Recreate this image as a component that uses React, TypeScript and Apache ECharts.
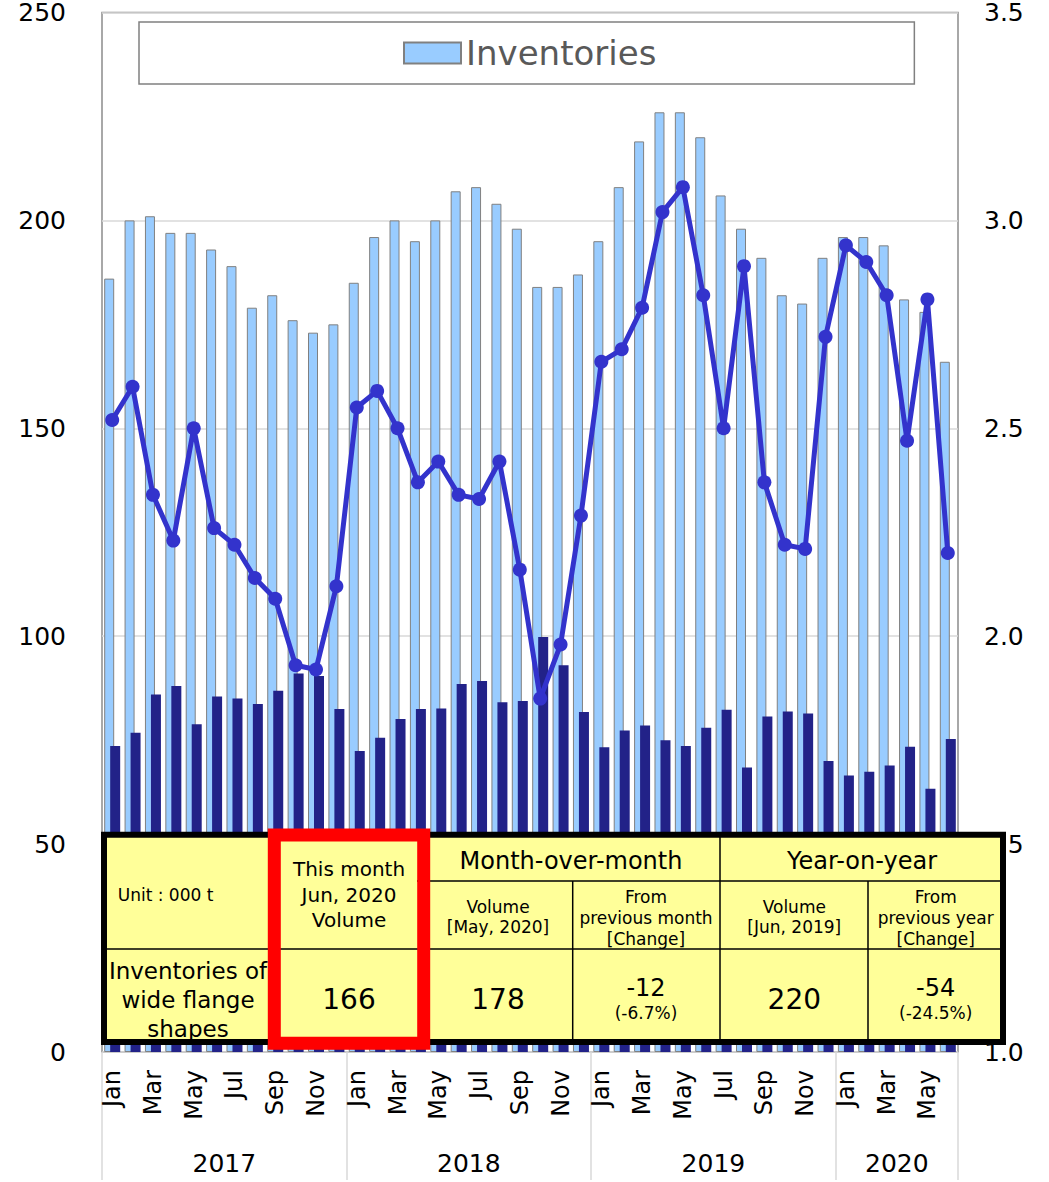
import React, { useEffect, useRef } from "react";
import * as echarts from "echarts";

const years = ["2017", "2018", "2019", "2020"];
const monthsPerYear = [12, 12, 12, 6];
const monthNames = ["Jan", "Feb", "Mar", "Apr", "May", "Jun", "Jul", "Aug", "Sep", "Oct", "Nov", "Dec"];

// Inventories (000 t), left axis
const inventories = [
  186, 200, 201, 197, 197, 193, 189, 179, 182, 176, 173, 175,
  185, 196, 200, 195, 200, 207, 208, 204, 198, 184, 184, 187,
  195, 208, 219, 226, 226, 220, 206, 198, 191, 182, 180, 191,
  196, 196, 194, 181, 178, 166,
];
// Shipments (000 t), left axis
const shipments = [
  73.6, 76.8, 86.0, 88.0, 78.8, 85.5, 85.0, 83.7, 86.9, 91.0, 90.4, 82.5,
  72.4, 75.6, 80.1, 82.5, 82.6, 88.5, 89.2, 84.1, 84.4, 99.8, 93.0, 81.8,
  73.3, 77.3, 78.5, 75.0, 73.6, 78.0, 82.3, 68.4, 80.7, 81.9, 81.4, 70.0,
  66.5, 67.4, 68.9, 73.4, 63.3, 75.3,
];
// Inventory ratio (months), right axis
const ratio = [
  2.52, 2.60, 2.34, 2.23, 2.50, 2.26, 2.22, 2.14, 2.09, 1.93, 1.92, 2.12,
  2.55, 2.59, 2.50, 2.37, 2.42, 2.34, 2.33, 2.42, 2.16, 1.85, 1.98, 2.29,
  2.66, 2.69, 2.79, 3.02, 3.08, 2.82, 2.50, 2.89, 2.37, 2.22, 2.21, 2.72,
  2.94, 2.90, 2.82, 2.47, 2.81, 2.20,
];

const leftAxis = { min: 0, max: 250, interval: 50 };
const rightAxis = { min: 1.0, max: 3.5, interval: 0.5 };

const tableHeaders = {
  unit: "Unit : 000 t",
  rowLabel: "Inventories of\nwide flange\nshapes",
  thisMonth: "This month\nJun, 2020\nVolume",
  mom: "Month-over-month",
  momVolume: "Volume\n[May, 2020]",
  momChange: "From\nprevious month\n[Change]",
  yoy: "Year-on-year",
  yoyVolume: "Volume\n[Jun, 2019]",
  yoyChange: "From\nprevious year\n[Change]",
};

const FONT = "DejaVu Sans";

function buildCategories() {
  const cats: string[] = [];
  years.forEach((y, yi) => {
    for (let m = 0; m < monthsPerYear[yi]; m++) cats.push(monthNames[m] + " " + y);
  });
  return cats;
}

export default function App() {
  const ref = useRef<HTMLDivElement>(null);

  useEffect(() => {
    document.body.style.margin = "0";
    if (!ref.current) return;
    const chart = echarts.init(ref.current, undefined, { renderer: "svg" });

    const categories = buildCategories();
    const boundaries: number[] = [0];
    monthsPerYear.forEach((n) => boundaries.push(boundaries[boundaries.length - 1] + n));
    const mids = monthsPerYear.map((n, i) => boundaries[i] + n / 2);

    const last = inventories.length - 1;
    const cur = inventories[last];
    const prevM = inventories[last - 1];
    const prevY = inventories[last - 12];
    const dM = cur - prevM;
    const dY = cur - prevY;
    const pM = ((dM / prevM) * 100).toFixed(1);
    const pY = ((dY / prevY) * 100).toFixed(1);

    const t = (x: number, y: number, text: string, size: number, align = "center", lineHeight?: number) => ({
      type: "text",
      z: 110,
      x,
      y,
      style: {
        text,
        fill: "#000",
        font: `${size}px "${FONT}"`,
        fontSize: size,
        fontFamily: FONT,
        textAlign: align,
        align,
        textVerticalAlign: "middle",
        verticalAlign: "middle",
        lineHeight: lineHeight ?? size * 1.2,
      },
    });
    const ln = (x1: number, y1: number, x2: number, y2: number) => ({
      type: "line",
      z: 105,
      shape: { x1, y1, x2, y2 },
      style: { stroke: "#000", lineWidth: 1.5 },
    });

    const tx0 = 104, ty0 = 834.7, tx1 = 1003, ty1 = 1042;

    const option: any = {
      animation: false,
      textStyle: { fontFamily: FONT },
      grid: {
        left: 102,
        right: 91,
        top: 11,
        bottom: 130,
        show: true,
        borderColor: "#8c8c8c",
        borderWidth: 1.5,
      },
      legend: {
        data: ["Inventories"],
        left: 139,
        top: 22,
        padding: [14, 258, 14, 264],
        borderColor: "#808080",
        borderWidth: 1.5,
        icon: "rect",
        itemWidth: 57,
        itemHeight: 21,
        textStyle: { fontSize: 34, color: "#595959", fontFamily: FONT },
      },
      xAxis: [
        {
          type: "category",
          data: categories,
          position: "bottom",
          axisLine: { show: false },
          axisTick: { show: false },
          axisLabel: {
            interval: 1,
            rotate: 90,
            margin: 18,
            fontSize: 24,
            color: "#000",
            fontFamily: FONT,
            formatter: (v: string) => v.split(" ")[0],
          },
        },
        {
          type: "value",
          position: "bottom",
          min: 0,
          max: boundaries[boundaries.length - 1],
          axisLine: { show: false },
          splitLine: { show: false },
          axisTick: {
            show: true,
            customValues: boundaries,
            length: 128,
            lineStyle: { color: "#d9d9d9", width: 1.5 },
          },
          axisLabel: {
            customValues: mids,
            margin: 99,
            fontSize: 25,
            color: "#000",
            fontFamily: FONT,
            formatter: (v: number) => {
              const i = mids.indexOf(v);
              return i >= 0 ? years[i] : "";
            },
          },
        },
      ],
      yAxis: [
        {
          type: "value",
          min: leftAxis.min,
          max: leftAxis.max,
          interval: leftAxis.interval,
          axisLine: { show: false },
          axisTick: { show: false },
          axisLabel: { fontSize: 25, lineHeight: 20, color: "#000", margin: 36, fontFamily: FONT },
          splitLine: { lineStyle: { color: "#d9d9d9", width: 1.5 } },
        },
        {
          type: "value",
          min: rightAxis.min,
          max: rightAxis.max,
          interval: rightAxis.interval,
          axisLine: { show: false },
          axisTick: { show: false },
          axisLabel: {
            fontSize: 25,
            lineHeight: 20,
            color: "#000",
            margin: 26,
            fontFamily: FONT,
            formatter: (v: number) => v.toFixed(1),
          },
          splitLine: { show: false },
        },
      ],
      series: [
        {
          name: "Inventories",
          type: "bar",
          data: inventories,
          barWidth: 10,
          barGap: "-40%",
          itemStyle: { color: "#99CCFF", borderColor: "#808080", borderWidth: 1 },
          z: 2,
        },
        {
          name: "Shipments",
          type: "bar",
          data: shipments,
          barWidth: 10,
          itemStyle: { color: "#222288" },
          z: 3,
        },
        {
          name: "Inventory ratio",
          type: "line",
          yAxisIndex: 1,
          data: ratio,
          symbol: "circle",
          symbolSize: 14,
          showAllSymbol: true,
          lineStyle: { color: "#3333CC", width: 5 },
          itemStyle: { color: "#3333CC" },
          z: 5,
        },
      ],
      graphic: [
        {
          type: "rect",
          z: 100,
          shape: { x: tx0, y: ty0, width: tx1 - tx0, height: ty1 - ty0 },
          style: { fill: "#FFFF99", stroke: null },
        },
        ln(tx0, 949, tx1, 949),
        ln(417, 881, tx1, 881),
        ln(274, ty0, 274, ty1),
        ln(572.7, 881, 572.7, ty1),
        ln(720, ty0, 720, ty1),
        ln(868, 881, 868, ty1),
        t(117.7, 895, tableHeaders.unit, 17, "left"),
        t(188, 999.5, tableHeaders.rowLabel, 23, "center", 29),
        t(349, 894.7, tableHeaders.thisMonth, 20, "center", 25.3),
        t(349, 999.3, String(cur), 28),
        t(571, 860.5, tableHeaders.mom, 24),
        t(498, 917, tableHeaders.momVolume, 17, "center", 20.6),
        t(498, 999.3, String(prevM), 28),
        t(646, 918.3, tableHeaders.momChange, 17, "center", 21),
        t(646, 988.3, String(dM), 24),
        t(646, 1012.7, `(${pM}%)`, 17),
        t(862, 860.7, tableHeaders.yoy, 24),
        t(794.3, 917, tableHeaders.yoyVolume, 17, "center", 20.6),
        t(794.3, 999.3, String(prevY), 28),
        t(935.7, 918.3, tableHeaders.yoyChange, 17, "center", 21),
        t(935.7, 988.3, String(dY), 24),
        t(935.7, 1012.7, `(${pY}%)`, 17),
        {
          type: "rect",
          z: 120,
          shape: { x: tx0, y: ty0, width: tx1 - tx0, height: ty1 - ty0 },
          style: { fill: "none", stroke: "#000", lineWidth: 6 },
        },
        {
          type: "rect",
          z: 130,
          shape: { x: 274.3, y: 835, width: 149.4, height: 208.3 },
          style: { fill: "none", stroke: "#FF0000", lineWidth: 13 },
        },
      ],
    };

    chart.setOption(option);
    return () => chart.dispose();
  }, []);

  return <div ref={ref} style={{ width: 1049, height: 1182 }} />;
}
